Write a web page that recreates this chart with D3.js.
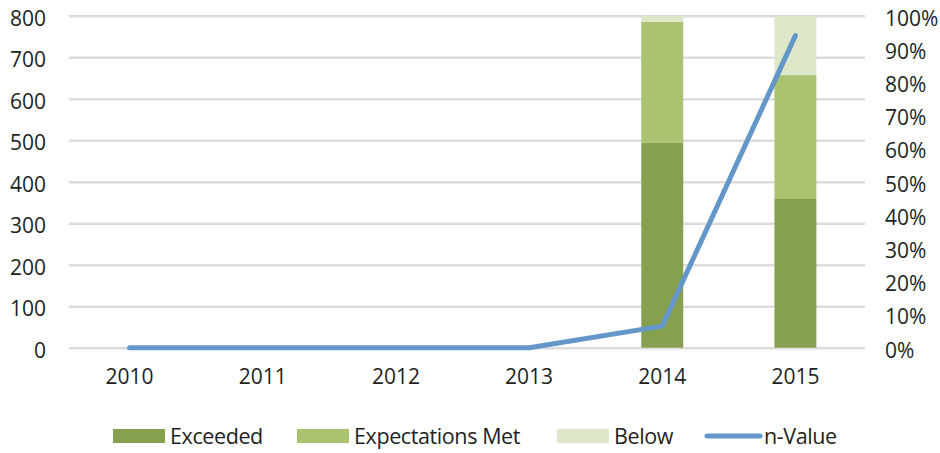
<!DOCTYPE html>
<html>
<head>
<meta charset="utf-8">
<script src="https://cdn.jsdelivr.net/npm/d3@7"></script>
<style>
  body { margin: 0; background: #fff; }
  text { font-family: "Open Sans", sans-serif; fill: #231f20; }
</style>
</head>
<body>
<div id="chart"></div>
<script>
const years = ['2010', '2011', '2012', '2013', '2014', '2015'];
const exceeded = [0, 0, 0, 0, 0.617, 0.448];
const expectationsMet = [0, 0, 0, 0, 0.365, 0.373];
const below = [0, 0, 0, 0, 0.018, 0.179];
const nValue = [0, 0, 0, 0, 52, 752];
const leftTicks = [0, 100, 200, 300, 400, 500, 600, 700, 800];
const rightTicks = [0, 0.1, 0.2, 0.3, 0.4, 0.5, 0.6, 0.7, 0.8, 0.9, 1];

const width = 940, height = 453;
const gridLeft = 69, gridRight = 865;
const yTop = 15.7, yBottom = 347.7;

const svg = d3.select('#chart')
    .append('svg')
    .attr('width', width)
    .attr('height', height);

const x = d3.scaleBand()
    .domain(years)
    .range([63, 862])
    .paddingInner(0.685)
    .paddingOuter(0.3425);

const yLeft = d3.scaleLinear().domain([0, 800]).range([yBottom, yTop]);
const yRight = d3.scaleLinear().domain([0, 1]).range([yBottom, yTop]);

// gridlines + left labels
const leftAxis = svg.append('g')
    .attr('transform', `translate(${gridLeft},0)`)
    .call(d3.axisLeft(yLeft).tickValues(leftTicks).tickSize(-(gridRight - gridLeft)).tickPadding(23));
leftAxis.select('.domain').remove();
leftAxis.selectAll('line').attr('stroke', '#dcdcdc').attr('stroke-width', 2.5);
leftAxis.selectAll('text')
    .style('font-size', '21px')
    .attr('dy', '0.45em');

// right labels
const rightAxis = svg.append('g')
    .attr('transform', `translate(${gridRight},0)`)
    .call(d3.axisRight(yRight).tickValues(rightTicks).tickSize(0).tickPadding(20).tickFormat(d3.format('.0%')));
rightAxis.select('.domain').remove();
rightAxis.selectAll('text')
    .style('font-size', '21px')
    .attr('dy', '0.45em');

// stacked bars
const stackData = years.map((yr, i) => ({
    year: yr, exceeded: exceeded[i], met: expectationsMet[i], below: below[i]
}));
const keys = ['exceeded', 'met', 'below'];
const colors = { exceeded: '#87a04f', met: '#abc270', below: '#dde8c9' };
const series = d3.stack().keys(keys)(stackData);

svg.append('g')
    .selectAll('g')
    .data(series)
    .join('g')
    .attr('fill', d => colors[d.key])
    .selectAll('rect')
    .data(d => d)
    .join('rect')
    .attr('x', d => x(d.data.year))
    .attr('width', x.bandwidth())
    .attr('y', d => yRight(d[1]))
    .attr('height', d => yRight(d[0]) - yRight(d[1]));

// n-Value line
const line = d3.line()
    .x((d, i) => x(years[i]) + x.bandwidth() / 2)
    .y(d => yLeft(d));

svg.append('path')
    .datum(nValue)
    .attr('fill', 'none')
    .attr('stroke', '#6497c9')
    .attr('stroke-width', 5)
    .attr('stroke-linecap', 'round')
    .attr('stroke-linejoin', 'round')
    .attr('d', line);

// category labels
const bottomAxis = svg.append('g')
    .attr('transform', `translate(0,${yBottom})`)
    .call(d3.axisBottom(x).tickSize(0).tickPadding(21));
bottomAxis.select('.domain').remove();
bottomAxis.selectAll('text').style('font-size', '21px');

// legend
const legendItems = [
    { name: 'Exceeded', color: colors.exceeded, type: 'rect', x: 113 },
    { name: 'Expectations Met', color: colors.met, type: 'rect', x: 297 },
    { name: 'Below', color: colors.below, type: 'rect', x: 557 },
    { name: 'n-Value', color: '#6497c9', type: 'line', x: 705 }
];
const legend = svg.append('g').attr('transform', 'translate(0,436)');
const li = legend.selectAll('g')
    .data(legendItems)
    .join('g')
    .attr('transform', d => `translate(${d.x},0)`);
li.filter(d => d.type === 'rect')
    .append('rect')
    .attr('x', 0).attr('y', -7)
    .attr('width', 52).attr('height', 14)
    .attr('fill', d => d.color);
li.filter(d => d.type === 'line')
    .append('line')
    .attr('x1', 2).attr('x2', 55)
    .attr('y1', 0).attr('y2', 0)
    .attr('stroke', d => d.color)
    .attr('stroke-width', 5)
    .attr('stroke-linecap', 'round');
li.append('text')
    .attr('x', d => d.type === 'line' ? 59 : 57)
    .attr('y', 0)
    .attr('dy', '0.36em')
    .style('font-size', '21.5px')
    .style('letter-spacing', '-0.4px')
    .text(d => d.name);
</script>
</body>
</html>
